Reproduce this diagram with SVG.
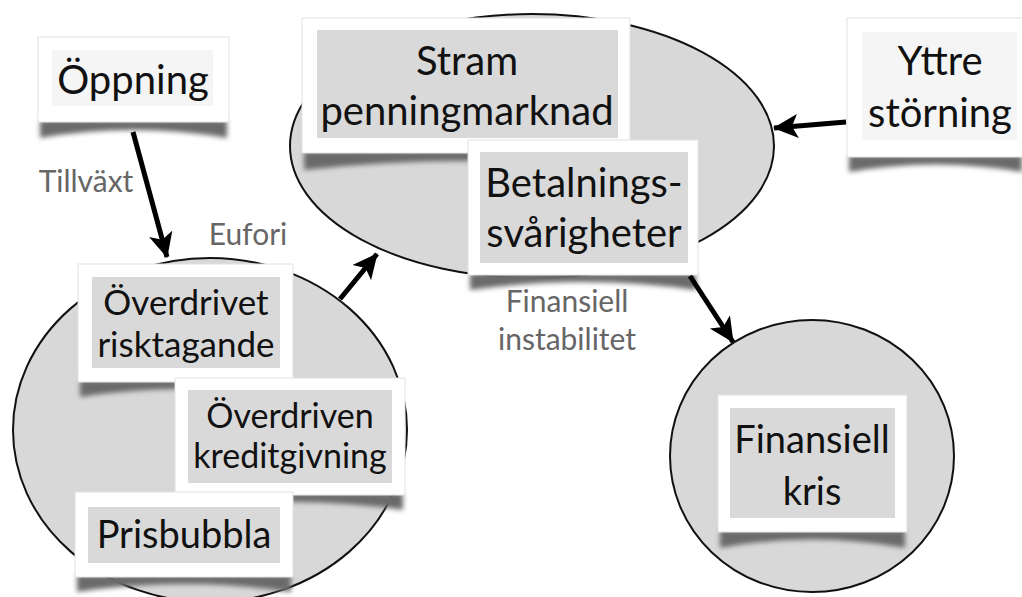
<svg xmlns="http://www.w3.org/2000/svg" width="1022" height="597" viewBox="0 0 1022 597">
<defs>
<style>
.ell{fill:#d8d8d8;stroke:#111;stroke-width:2}
.card{fill:#fff;stroke:#e2e2e2;stroke-width:1}
.inner{fill:#d9d9d9}
.innerl{fill:#f5f5f5}
.sh{fill:#6a6a6a;filter:url(#blur)}
.t{font-family:Lato,"Open Sans","DejaVu Sans",sans-serif;fill:#111;text-anchor:middle}
.lbl{font-family:Lato,"Open Sans","DejaVu Sans",sans-serif;fill:#666;text-anchor:middle;font-size:30px}
.conn{stroke:#000;stroke-width:5;fill:none;marker-end:url(#ah)}
</style>
<filter id="blur" x="-10%" y="-50%" width="120%" height="200%"><feGaussianBlur stdDeviation="2.5"/></filter>
<marker id="ah" markerUnits="userSpaceOnUse" markerWidth="28" markerHeight="26" refX="24" refY="13" orient="auto">
<path d="M0,1 L25,13 L0,25 L6,13 Z" fill="#000"/>
</marker>
</defs>
<rect width="1022" height="597" fill="#fff"/>

<ellipse id="euforiRing" class="ell" cx="210" cy="430" rx="197" ry="172"/>
<ellipse id="instabilityRing" class="ell" cx="532" cy="146" rx="242" ry="132"/>
<ellipse id="crisisRing" class="ell" cx="812" cy="456" rx="142" ry="136"/>

<g id="oppning">
<path class="sh" d="M40,120 L40,138 Q133,122 227,138 L227,120 Z"/>
<rect class="card" x="38" y="37" width="191" height="85"/>
<rect class="innerl" x="52" y="50" width="161" height="56"/>
<text class="t" x="133" y="94" font-size="40">Öppning</text>
</g>

<g id="stram">
<path class="sh" d="M304,151 L304,170 Q466,152 628,170 L628,151 Z"/>
<rect class="card" x="302" y="18" width="328" height="135"/>
<rect class="inner" x="317" y="30" width="301" height="108"/>
<text class="t" x="467" y="75" font-size="40">Stram</text>
<text class="t" x="467" y="125" font-size="40">penningmarknad</text>
</g>

<g id="betalning">
<path class="sh" d="M470,273 L470,290 Q583,274 696,290 L696,273 Z"/>
<rect class="card" x="468" y="140" width="230" height="135"/>
<rect class="inner" x="480" y="152" width="208" height="111"/>
<text class="t" x="584" y="197" font-size="40">Betalnings-</text>
<text class="t" x="584" y="247" font-size="40">svårigheter</text>
</g>

<g id="yttre">
<path class="sh" d="M849,155 L849,172 Q935,157 1022,172 L1022,155 Z"/>
<rect class="card" x="847" y="18" width="180" height="139"/>
<rect class="innerl" x="862" y="32" width="155" height="108"/>
<text class="t" x="940" y="75" font-size="40">Yttre</text>
<text class="t" x="940" y="127" font-size="40">störning</text>
</g>

<g id="overdrivet">
<path class="sh" d="M80,380 L80,397 Q185,381 291,397 L291,380 Z"/>
<rect class="card" x="78" y="264" width="215" height="118"/>
<rect class="inner" x="92" y="277" width="188" height="91"/>
<text class="t" x="186" y="315" font-size="35">Överdrivet</text>
<text class="t" x="186" y="357" font-size="35">risktagande</text>
</g>

<g id="kredit">
<path class="sh" d="M177,493 L177,510 Q290,494 403,510 L403,493 Z"/>
<rect class="card" x="175" y="378" width="230" height="117"/>
<rect class="inner" x="188" y="390" width="204" height="93"/>
<text class="t" x="290" y="428" font-size="34">Överdriven</text>
<text class="t" x="290" y="468" font-size="34">kreditgivning</text>
</g>

<g id="prisbubbla">
<path class="sh" d="M77,575 L77,592 Q184,576 291,592 L291,575 Z"/>
<rect class="card" x="75" y="492" width="218" height="85"/>
<rect class="inner" x="88" y="507" width="192" height="56"/>
<text class="t" x="184" y="548" font-size="38">Prisbubbla</text>
</g>

<g id="kris">
<path class="sh" d="M720,530 L720,548 Q812,531 905,548 L905,530 Z"/>
<rect class="card" x="718" y="395" width="189" height="137"/>
<rect class="inner" x="730" y="408" width="165" height="110"/>
<text class="t" x="812" y="453" font-size="38">Finansiell</text>
<text class="t" x="812" y="505" font-size="38">kris</text>
</g>

<g id="labels">
<text class="lbl" x="86" y="192">Tillväxt</text>
<text class="lbl" x="248" y="245">Eufori</text>
<text class="lbl" x="567" y="312">Finansiell</text>
<text class="lbl" x="567" y="350">instabilitet</text>
</g>

<g id="connectors">
<line class="conn" x1="133" y1="132" x2="167" y2="257"/>
<line class="conn" x1="340" y1="299" x2="377" y2="254"/>
<line class="conn" x1="846" y1="122" x2="774" y2="128"/>
<line class="conn" x1="690" y1="276" x2="733" y2="342"/>
</g>
</svg>
